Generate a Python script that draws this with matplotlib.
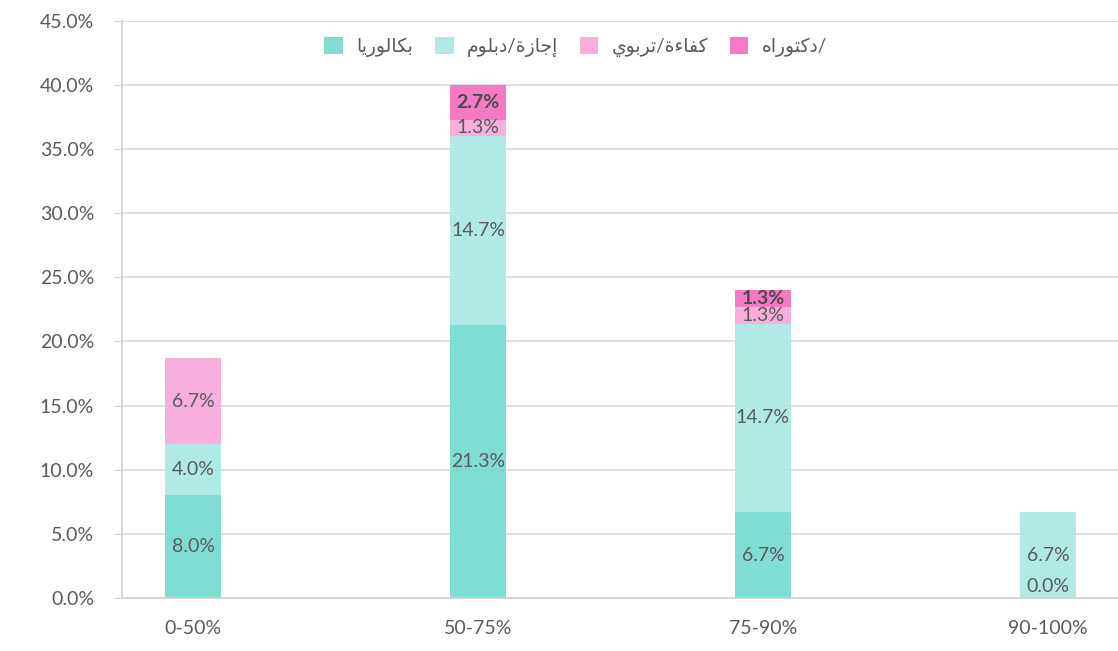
import numpy as np
import matplotlib.pyplot as plt
from matplotlib.ticker import FuncFormatter

plt.rcParams['font.family'] = ['Lato', 'DejaVu Sans']

# categories and series (percent)
groups = ['0-50%', '50-75%', '75-90%', '90-100%']
series_names = ['بكالوريا', 'إجازة/دبلوم', 'كفاءة/تربوي', '/دكتوراه']
bac = [8.0, 21.3, 6.7, 0.0]
ijaza = [4.0, 14.7, 14.7, 6.7]
kafaa = [6.7, 1.3, 1.3, np.nan]
doct = [np.nan, 2.7, 1.3, np.nan]
colors = ['#74dbcf', '#abe9e2', '#f8a8d8', '#f46fbd']

# arabic presentation forms: isolated, final, initial, medial
FORMS = {
    'ا': ('\uFE8D', '\uFE8E', None, None),
    'إ': ('\uFE87', '\uFE88', None, None),
    'ب': ('\uFE8F', '\uFE90', '\uFE91', '\uFE92'),
    'ت': ('\uFE95', '\uFE96', '\uFE97', '\uFE98'),
    'ة': ('\uFE93', '\uFE94', None, None),
    'ج': ('\uFE9D', '\uFE9E', '\uFE9F', '\uFEA0'),
    'د': ('\uFEA9', '\uFEAA', None, None),
    'ر': ('\uFEAD', '\uFEAE', None, None),
    'ز': ('\uFEAF', '\uFEB0', None, None),
    'ع': ('\uFEC9', '\uFECA', '\uFECB', '\uFECC'),
    'ف': ('\uFED1', '\uFED2', '\uFED3', '\uFED4'),
    'ك': ('\uFED9', '\uFEDA', '\uFEDB', '\uFEDC'),
    'ل': ('\uFEDD', '\uFEDE', '\uFEDF', '\uFEE0'),
    'م': ('\uFEE1', '\uFEE2', '\uFEE3', '\uFEE4'),
    'ه': ('\uFEE9', '\uFEEA', '\uFEEB', '\uFEEC'),
    'و': ('\uFEED', '\uFEEE', None, None),
    'ي': ('\uFEF1', '\uFEF2', '\uFEF3', '\uFEF4'),
    'ء': ('\uFE80', None, None, None),
}


def shape_rtl(w):
    # join letters and put them in right-to-left visual order
    out = []
    for i, c in enumerate(w):
        if c not in FORMS:
            out.append(c)
            continue
        prev = w[i - 1] if i > 0 else None
        nxt = w[i + 1] if i + 1 < len(w) else None
        jp = prev in FORMS and FORMS[prev][2] is not None and FORMS[c][1] is not None
        jn = nxt in FORMS and FORMS[c][2] is not None and FORMS[nxt][1] is not None
        f = FORMS[c]
        if jp and jn:
            out.append(f[3])
        elif jp:
            out.append(f[1])
        elif jn:
            out.append(f[2])
        else:
            out.append(f[0])
    return ''.join(reversed(out))


fig = plt.figure(figsize=(11.18, 6.51), dpi=100)
ax = fig.add_axes([0.109, 0.0814, 0.892, 0.8866])

x = np.arange(len(groups))
width = 0.196
bottom = np.zeros(len(groups))
data = [bac, ijaza, kafaa, doct]
for k, vals in enumerate(data):
    v = np.nan_to_num(np.array(vals, dtype=float))
    ax.bar(x, v, width, bottom=bottom, color=colors[k], alpha=0.92,
           label=shape_rtl(series_names[k]), zorder=2)
    for i, val in enumerate(vals):
        if np.isnan(val):
            continue
        if val == 0:
            ax.text(x[i], bottom[i] + 0.25, f'{val:.1f}%', ha='center', va='bottom',
                    fontsize=14, color='#5a5a5a', zorder=3)
        else:
            ax.text(x[i], bottom[i] + val / 2, f'{val:.1f}%', ha='center', va='center',
                    fontsize=14, color='#4a4a4a' if k == 3 else '#5a5a5a',
                    fontweight='bold' if k == 3 else 'normal', zorder=3)
    bottom += v

ax.set_xlim(-0.25, 3.25)
ax.set_ylim(0, 45)
ax.set_yticks(np.arange(0, 46, 5))
ax.yaxis.set_major_formatter(FuncFormatter(lambda v, p: f'{v:.1f}%'))
ax.set_xticks(x)
ax.set_xticklabels(groups)
ax.grid(axis='y', color='#d9d9d9', linewidth=1.2, zorder=0)
ax.set_axisbelow(True)
for s in ['top', 'right']:
    ax.spines[s].set_visible(False)
for s in ['left', 'bottom']:
    ax.spines[s].set_color('#d0d0d0')
    ax.spines[s].set_linewidth(1.2)
ax.tick_params(axis='y', length=6, color='#d0d0d0', labelsize=14, labelcolor='#5a5a5a', pad=14)
ax.tick_params(axis='x', length=0, labelsize=14, labelcolor='#5a5a5a', pad=16)

leg = ax.legend(loc='center', bbox_to_anchor=(0.455, 0.955), ncol=4, frameon=False,
                fontsize=13.5, handlelength=1.0, handleheight=1.0, columnspacing=1.15,
                handletextpad=0.7)
for t in leg.get_texts():
    t.set_color('#5a5a5a')

fig.savefig('out.png', dpi=100)
